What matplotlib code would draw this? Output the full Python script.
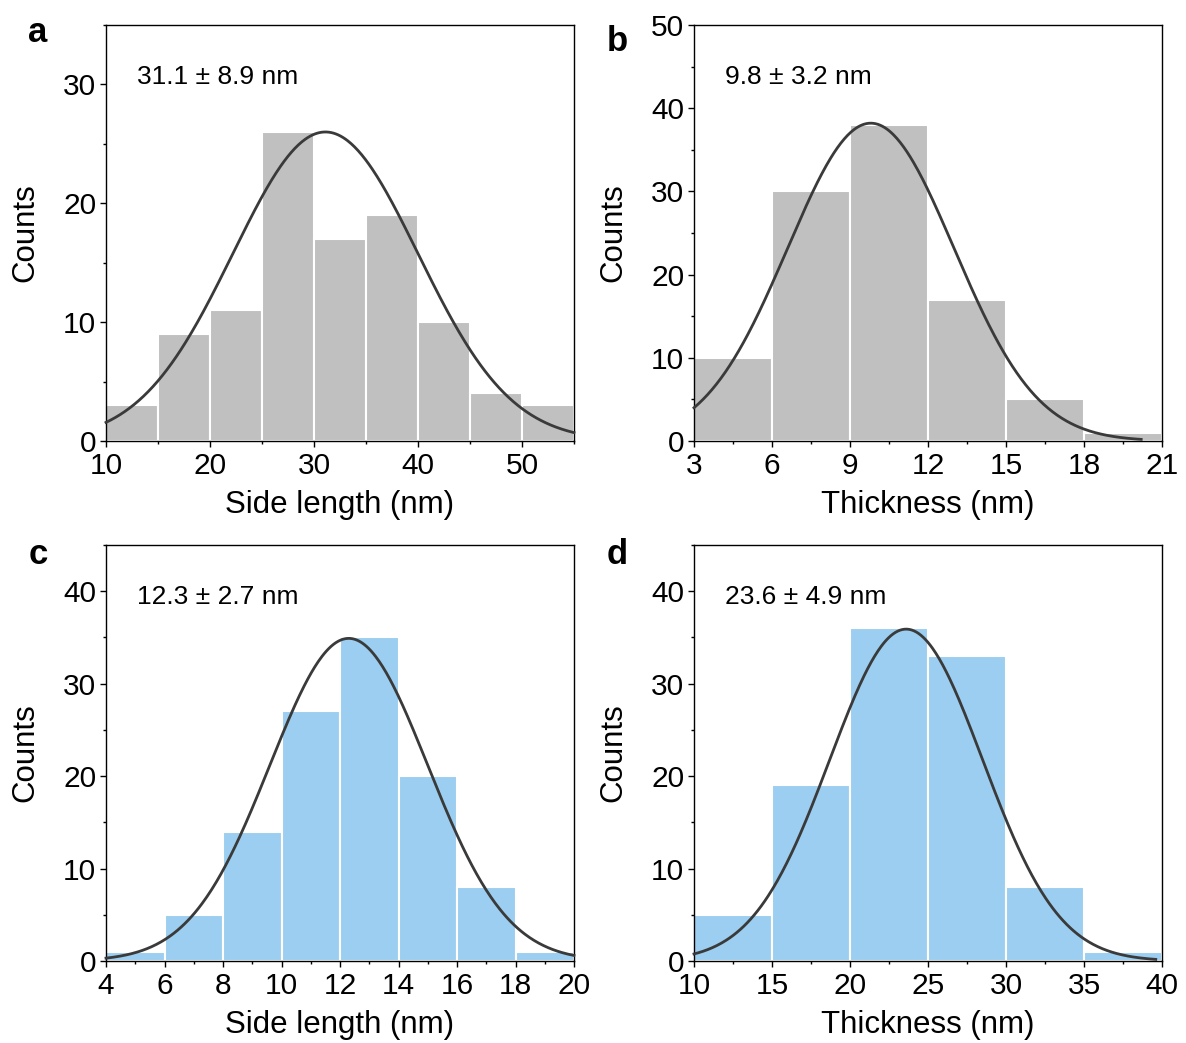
import numpy as np
import matplotlib
matplotlib.use("Agg")
import matplotlib.pyplot as plt
from matplotlib.ticker import MultipleLocator, AutoMinorLocator

plt.rcParams['font.family'] = ['Liberation Sans', 'DejaVu Sans']

# ---- data ----
a_edges = [10, 15, 20, 25, 30, 35, 40, 45, 50, 55]
a_counts = [3, 9, 11, 26, 17, 19, 10, 4, 3]
a_fit = (31.1, 8.9, 26.0)  # mean, sd, peak
a_fit_range = (10, 55)

b_edges = [3, 6, 9, 12, 15, 18, 21]
b_counts = [10, 30, 38, 17, 5, 1]
b_fit = (9.8, 3.2, 38.2)
b_fit_range = (3, 20.2)

c_edges = [4, 6, 8, 10, 12, 14, 16, 18, 20]
c_counts = [1, 5, 14, 27, 35, 20, 8, 1]
c_fit = (12.3, 2.7, 34.9)
c_fit_range = (4, 20)

d_edges = [10, 15, 20, 25, 30, 35, 40]
d_counts = [5, 19, 36, 33, 8, 1]
d_fit = (23.6, 4.9, 35.9)
d_fit_range = (10, 39.6)

panels = [
    dict(letter='a', edges=a_edges, counts=a_counts, fit=a_fit, fr=a_fit_range,
         xlabel='Side length (nm)', xlim=(10, 55), xstep=10, ylim=(0, 35),
         text='31.1 ± 8.9 nm', color='#c0c0c0', lpos=(38, 33)),
    dict(letter='b', edges=b_edges, counts=b_counts, fit=b_fit, fr=b_fit_range,
         xlabel='Thickness (nm)', xlim=(3, 21), xstep=3, ylim=(0, 50),
         text='9.8 ± 3.2 nm', color='#c0c0c0', lpos=(617, 42)),
    dict(letter='c', edges=c_edges, counts=c_counts, fit=c_fit, fr=c_fit_range,
         xlabel='Side length (nm)', xlim=(4, 20), xstep=2, ylim=(0, 45),
         text='12.3 ± 2.7 nm', color='#9bcef0', lpos=(38, 554)),
    dict(letter='d', edges=d_edges, counts=d_counts, fit=d_fit, fr=d_fit_range,
         xlabel='Thickness (nm)', xlim=(10, 40), xstep=5, ylim=(0, 45),
         text='23.6 ± 4.9 nm', color='#9bcef0', lpos=(617, 554)),
]

W, H = 1186, 1043
fig = plt.figure(figsize=(W / 100, H / 100), dpi=100)

boxes = [(106, 25, 574, 441), (694, 25, 1162, 441),
         (106, 545, 574, 961), (694, 545, 1162, 961)]

for p, (x0, y0, x1, y1) in zip(panels, boxes):
    w, h = x1 - x0, y1 - y0
    ax = fig.add_axes([x0 / W, 1 - y1 / H, w / W, h / H])
    edges = np.array(p['edges'], dtype=float)
    counts = np.array(p['counts'], dtype=float)
    ax.bar(edges[:-1], counts, width=np.diff(edges), align='edge',
           color=p['color'], edgecolor='white', linewidth=1.5, zorder=2)
    mu, sd, amp = p['fit']
    xs = np.linspace(p['fr'][0], p['fr'][1], 400)
    ax.plot(xs, amp * np.exp(-0.5 * ((xs - mu) / sd) ** 2), color='#3a3a3a',
            lw=2.0, zorder=3, clip_on=False)
    ax.set_xlim(*p['xlim'])
    ax.set_ylim(*p['ylim'])
    ax.xaxis.set_major_locator(MultipleLocator(p['xstep']))
    ax.xaxis.set_minor_locator(AutoMinorLocator(2))
    ax.yaxis.set_major_locator(MultipleLocator(10))
    ax.yaxis.set_minor_locator(AutoMinorLocator(2))
    ax.tick_params(which='both', direction='out', top=False, right=False,
                   labelsize=21.5, width=1.0)
    ax.tick_params(which='major', length=4)
    ax.tick_params(which='minor', length=2.5)
    ax.tick_params(axis='y', pad=3)
    ax.tick_params(axis='x', pad=4)
    for s in ax.spines.values():
        s.set_linewidth(1.0)
    ax.set_xlabel(p['xlabel'], fontsize=22.5)
    ax.set_ylabel('Counts', fontsize=22.5)
    ax.xaxis.set_label_coords(0.5, -64 / h, transform=ax.transAxes)
    ax.yaxis.set_label_coords(-81 / w, 0.5, transform=ax.transAxes)
    for lab in (ax.xaxis.label, ax.yaxis.label):
        lab.set_va('center')
    ax.text(31 / w, 1 - 52 / h, p['text'], transform=ax.transAxes,
            fontsize=19, va='center', ha='left')
    fig.text(p['lpos'][0] / W, 1 - p['lpos'][1] / H, p['letter'], fontsize=25,
             fontweight='bold', va='center', ha='center')

fig.savefig('out.png', dpi=100)
